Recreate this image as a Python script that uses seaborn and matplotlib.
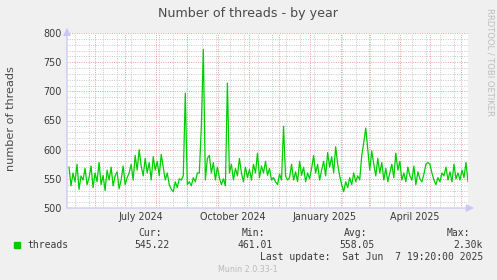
import numpy as np
import pandas as pd
import matplotlib
matplotlib.use("Agg")
import matplotlib.pyplot as plt
import seaborn as sns

# ---- data (one value every 2 days) ----
threads = [
    570, 538, 560, 545, 575, 532, 555, 548, 568, 540,
    552, 572, 535, 560, 545, 578, 540, 556, 530, 565,
    548, 570, 538, 555, 562, 533, 548, 572, 540, 552,
    560, 575, 548, 590, 565, 600, 572, 555, 585, 560,
    578, 548, 588, 565, 580, 555, 592, 570, 548, 560,
    540, 532, 528, 545, 535, 550, 548, 555, 697, 540,
    545, 538, 552, 545, 560, 560, 640, 772, 548, 585,
    590, 560, 578, 548, 570, 552, 540, 550, 538, 714,
    560, 575, 548, 568, 555, 585, 560, 545, 570, 552,
    566, 548, 575, 560, 594, 552, 572, 560, 580, 556,
    568, 548, 552, 545, 540, 558, 548, 640, 555, 548,
    552, 575, 548, 562, 545, 580, 556, 570, 545, 560,
    550, 568, 590, 560, 575, 548, 565, 580, 555, 595,
    570, 588, 560, 605, 575, 555, 540, 528, 545, 535,
    552, 540, 560, 545, 555, 548, 590, 612, 637, 600,
    565, 598, 575, 555, 585, 560, 578, 548, 568, 545,
    560, 575, 552, 594, 565, 580, 548, 560, 545, 570,
    555, 548, 572, 540, 562, 550, 545, 558, 575, 578,
    575, 560, 548, 540, 552, 545, 560, 555, 570, 548,
    562, 545, 575, 550, 560, 548, 565, 552, 578, 545,
]
last_update = "2025-06-07 19:20"
tick_dates = ["2024-07-16", "2024-10-16", "2025-01-16", "2025-04-16"]
tick_labels = ["July 2024", "October 2024", "January 2025", "April 2025"]
y_ticks = [500, 550, 600, 650, 700, 750, 800]
series_name = "threads"
stat_heads = ["Cur:", "Min:", "Avg:", "Max:"]
stat_values = ["545.22", "461.01", "558.05", "2.30k"]

end = pd.Timestamp(last_update)
df = pd.DataFrame({
    "date": pd.date_range(end=end, periods=len(threads), freq="2D"),
    "threads": threads,
})
start = end - pd.Timedelta(days=400)

BG = "#F0F0F0"
GREEN = "#00CC00"
MAJ = "#EE9C9C"
MIN = "#C8C8C8"
AXC = "#C8C8F8"
TXT = "#3A3A3A"

W, H = 497, 280
fig = plt.figure(figsize=(W / 100, H / 100), dpi=100, facecolor=BG)
L, R, T, B = 67, 468, 33, 208
ax = fig.add_axes([L / W, (H - B) / H, (R - L) / W, (B - T) / H])
ax.set_facecolor("white")

# grid
DOT = (0, (1, 1.4))
for v in range(500, 801, 10):
    if v % 50:
        ax.axhline(v, color=MIN, lw=0.7, ls=DOT, zorder=1)
for v in y_ticks:
    ax.axhline(v, color=MAJ, lw=0.7, ls=DOT, zorder=1.5)
minor_x = pd.date_range("2024-05-12", end, freq="14D")
for d in minor_x:
    ax.axvline(d, color=MIN, lw=0.7, ls=DOT, zorder=1)
month_x = pd.date_range("2024-06-01", end, freq="MS")
for d in month_x:
    ax.axvline(d, color=MAJ, lw=0.7, ls=DOT, zorder=1.5)

sns.lineplot(data=df, x="date", y="threads", ax=ax, color=GREEN,
             linewidth=0.9, zorder=3, legend=False)

ax.set_xlim(start, end)
ax.set_ylim(500, 800)
for s in ax.spines.values():
    s.set_visible(False)

ax.set_yticks(y_ticks)
ax.set_yticklabels([str(v) for v in y_ticks])
ax.set_xticks(pd.to_datetime(tick_dates))
ax.set_xticklabels(tick_labels)
ax.tick_params(axis="both", length=0, labelsize=6.9, colors=TXT, pad=3)
ax.tick_params(axis="y", pad=4)
ax.set_xlabel("")
ax.set_ylabel("")

# axes with arrows
ax.annotate("", xy=(1.015, 0), xytext=(0, 0), xycoords="axes fraction",
            arrowprops=dict(arrowstyle="-|>,head_length=0.45,head_width=0.22",
                            color=AXC, lw=0.9, shrinkA=0, shrinkB=0),
            annotation_clip=False, zorder=5)
ax.annotate("", xy=(0, 1.03), xytext=(0, 0), xycoords="axes fraction",
            arrowprops=dict(arrowstyle="-|>,head_length=0.45,head_width=0.22",
                            color=AXC, lw=0.9, shrinkA=0, shrinkB=0),
            annotation_clip=False, zorder=5)

# texts
def fx(x):
    return x / W

def fy(y):
    return 1 - y / H

fig.text(fx(248), fy(13), "Number of threads - by year", ha="center", va="center",
         fontsize=9.1, color="#4A4A4A", family="DejaVu Sans")
fig.text(fx(11), fy(119), "number of threads", ha="center", va="center",
         rotation=90, fontsize=8.1, color="#4A4A4A", family="DejaVu Sans")
fig.text(fx(490), fy(8), "RRDTOOL / TOBI OETIKER", ha="center", va="top",
         rotation=270, fontsize=6, color="#BDBDBD", family="DejaVu Sans")

mono = "DejaVu Sans Mono"
head_right = [162, 265, 367, 470]
val_right = [170, 273, 375, 483]
for h, xr in zip(stat_heads, head_right):
    fig.text(fx(xr), fy(233), h, ha="right", va="center", fontsize=7,
             family=mono, color=TXT)
for v, xr in zip(stat_values, val_right):
    fig.text(fx(xr), fy(245), v, ha="right", va="center", fontsize=7,
             family=mono, color=TXT)
fig.patches.append(plt.Rectangle((fx(14), fy(248)), 6 / W, 6 / H,
                                 transform=fig.transFigure, color=GREEN))
fig.text(fx(27), fy(245), series_name, ha="left", va="center", fontsize=7,
         family=mono, color=TXT)
fig.text(fx(483), fy(257), "Last update:  Sat Jun  7 19:20:00 2025", ha="right",
         va="center", fontsize=7, family=mono, color=TXT)
fig.text(fx(248), fy(269), "Munin 2.0.33-1", ha="center", va="center",
         fontsize=5.8, color="#BBBBBB", family="DejaVu Sans")

fig.savefig("out.png", dpi=100, facecolor=BG)
